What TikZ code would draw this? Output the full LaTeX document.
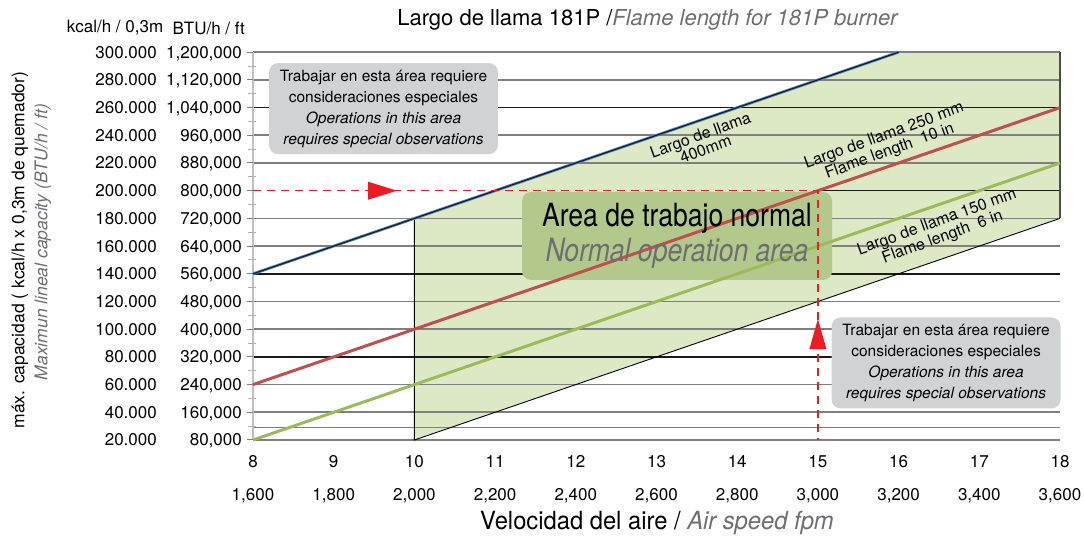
\documentclass[tikz,border=0pt]{standalone}
\usepackage{fontspec}
\setmainfont{TeX Gyre Heros}
\usetikzlibrary{positioning}

\definecolor{areaGreen}{HTML}{DDE9C5}
\definecolor{boxGreen}{HTML}{B3C98B}
\definecolor{boxGray}{HTML}{D1D2D4}
\definecolor{gridGray}{HTML}{7F7F7F}
\definecolor{flameRed}{HTML}{C0504D}
\definecolor{flameGreen}{HTML}{9BBB59}
\definecolor{flameBlue}{HTML}{4F81BD}
\definecolor{markRed}{HTML}{ED1C24}
\definecolor{softText}{HTML}{6D6E71}

\tikzstyle{gridLine} = [color=gridGray, line width=1.6pt]
\tikzstyle{gridLineDark} = [color=black!90, line width=1.6pt]
\tikzstyle{areaEdge} = [color=black, line width=0.9pt]
\tikzstyle{flameLine} = [line width=3pt]
\tikzstyle{markDash} = [color=markRed, line width=1.3pt, dash pattern=on 8pt off 6pt]
\tikzstyle{tickLabel} = [font=\fontsize{17}{19}\selectfont, inner sep=0pt]
\tikzstyle{noteBox} = [fill=boxGray, rounded corners=9pt, minimum width=229pt, minimum height=91pt, align=center, font=\fontsize{15.5}{21}\selectfont, inner sep=0pt]
\tikzstyle{flameText} = [rotate=20, align=center, font=\fontsize{16}{15}\selectfont, inner sep=0pt]
\tikzstyle{normalText} = [font=\fontsize{32}{34}\selectfont, inner sep=0pt, anchor=base]

\newcommand{\cn}[2]{\scalebox{#1}[1]{#2}}
\newcommand{\gridRow}[2]{\draw [#2] (8,#1) -- (18,#1);}
\newcommand{\markArrowRight}[2]{\fill [markRed] (#1,#2) ++(0,9pt) -- ++(29pt,-9pt) -- ++(-29pt,-9pt) -- cycle;}
\newcommand{\markArrowUp}[2]{\fill [markRed] (#1,#2) ++(-8.5pt,0) -- ++(8.5pt,30pt) -- ++(8.5pt,-30pt) -- cycle;}
\newcommand{\noteText}{Trabajar en esta área requiere\\ consideraciones especiales\\ \textit{Operations in this area}\\ \textit{requires special observations}}

\begin{document}
\begin{tikzpicture}
\useasboundingbox (0,0) rectangle (1084pt,538pt);

% plot, x = air speed, y = 1000 kcal/h
\begin{scope}[x=80.7pt, y=1.385pt, shift={(-392.6pt,70.3pt)}]
  \fill [areaGreen] (10,20) -- (10,180) -- (16,300) -- (18,300) -- (18,180) -- cycle;

  \foreach \v in {20,40,60,100,120,160,180,220,240,280,300} {\gridRow{\v}{gridLine}}
  \foreach \v in {80,140,260} {\gridRow{\v}{gridLineDark}}
  \gridRow{29}{gridLine}
  \draw [gridLineDark] (15,200) -- (18,200);

  % axis and ticks
  \draw [color=black!25, line width=1.2pt] (8,20) -- (8,300);
  \foreach \v in {20,40,...,300} {\draw [gridLine, line width=1pt] (8,\v) -- +(-6pt,0);}
  \foreach \v in {30,50,...,290} {\draw [color=black!30, line width=1pt] (8,\v) ++(-5pt,0) -- +(8pt,0);}

  \foreach \v/\btu in {20/{80,000},40/{160,000},60/{240,000},80/{320,000},100/{400,000},120/{480,000},140/{560,000},
                       160/{640,000},180/{720,000},200/{800,000},220/{880,000},240/{960,000},260/{1,040,000},
                       280/{1,120,000},300/{1,200,000}} {
    \node [tickLabel, anchor=base east, xshift=-96pt, yshift=-6pt] (kcal\v) at (8,\v) {\v.000};
    \node [tickLabel, anchor=base east, xshift=-11pt, yshift=-6pt] (btu\v) at (8,\v) {\btu};
  }
  \foreach \s/\f in {8/{1,600},9/{1,800},10/{2,000},11/{2,200},12/{2,400},13/{2,600},
                     14/{2,800},15/{3,000},16/{3,200},17/{3,400},18/{3,600}} {
    \node [tickLabel, anchor=base, yshift=-28pt] (speed\s) at (\s,20) {\s};
    \node [tickLabel, anchor=base, yshift=-60pt] (fpm\s) at (\s,20) {\f};
  }

  % limits of the normal area
  \draw [areaEdge] (10,180) -- (10,20) -- (18,180);
  \draw [color=black!70, line width=1.2pt] (18,180) -- (18,300);

  \node [noteBox] (noteHigh) at (9.617,259.3) {\noteText};
  \node [noteBox] (noteLow) at (16.588,75.6) {\noteText};
  \node [fill=boxGreen, rounded corners=9pt, minimum width=310pt, minimum height=88pt, inner sep=0pt] (normalBox) at (13.254,167.3) {};

  \draw [flameBlue, line width=2.8pt] (8,140) -- (16,300);
  \draw [black!90, line width=1.1pt] (8,140) -- (16,300);
  \draw [flameLine, flameRed] (8,60) -- (18,260);
  \draw [flameLine, flameGreen] (8,20) -- (18,220);

  \node [normalText, yshift=9.3pt] (normalEs) at (normalBox.center) {\cn{0.83}{Area de trabajo normal}};
  \node [normalText, yshift=-25.7pt, text=softText] (normalEn) at (normalBox.center) {\cn{0.83}{\textit{Normal operation area}}};

  \node [flameText] (flame400) at (13.576,235.2) {Largo de llama\\400mm};
  \node [flameText] (flame250) at (15.856,233.8) {Largo de llama 250 mm\\Flame length\ \ 10 in};
  \node [flameText] (flame150) at (16.512,171.6) {Largo de llama 150 mm\\Flame length\ \ 6 in};

  % working point
  \draw [markDash] (8,200) -- (15,200) -- (15,20);
  \markArrowRight{9.425}{200}
  \markArrowUp{15}{85.7}
\end{scope}

\node [font=\fontsize{22}{24}\selectfont] (title) at (648pt,518pt) {Largo de llama 181P /\textcolor{softText}{\textit{Flame length for 181P burner}}};
\node [tickLabel] (kcalHead) at (115pt,510pt) {kcal/h / 0,3m};
\node [tickLabel, anchor=east] (btuHead) at (245pt,510pt) {BTU/h / ft};
\node [rotate=90, font=\fontsize{17.5}{20}\selectfont] (capEs) at (20pt,288pt) {máx. capacidad ( kcal/h x 0,3m de quemador)};
\node [rotate=90, font=\fontsize{17.5}{20}\selectfont, text=softText] (capEn) at (43pt,296pt) {\textit{Maximun lineal capacity (BTU/h / ft)}};
\node [font=\fontsize{25}{28}\selectfont] (speedAxis) at (657pt,15pt) {\cn{0.95}{Velocidad del aire / \textcolor{softText}{\textit{Air speed fpm}}}};
\end{tikzpicture}
\end{document}
